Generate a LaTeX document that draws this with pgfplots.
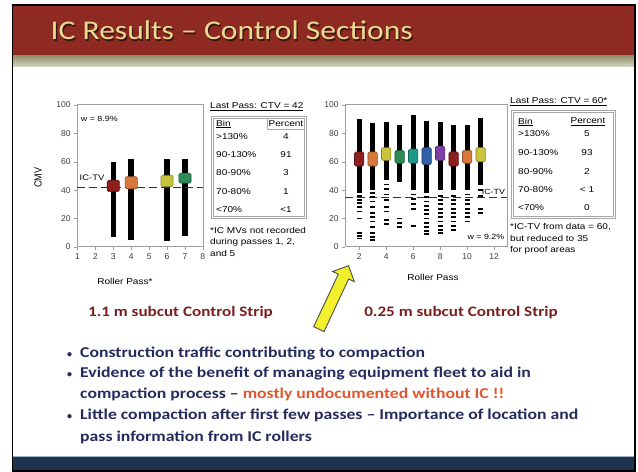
\documentclass[border=0pt]{standalone}
\usepackage{pgfplots}
\pgfplotsset{compat=1.18}
\usetikzlibrary{shapes.arrows}
\usepackage{graphicx}
\usepackage{fontspec}
\setmainfont{Liberation Sans}
\newfontfamily\calfont{Carlito}
\definecolor{slidered}{HTML}{8E2A22}
\definecolor{stripeA}{HTML}{959172}
\definecolor{stripeB}{HTML}{D8D6C4}
\definecolor{navy}{HTML}{1E3350}
\definecolor{navyline}{HTML}{9FB0C8}
\definecolor{titlegold}{HTML}{EADB92}
\definecolor{titleshadow}{HTML}{3A1410}
\definecolor{bultext}{HTML}{242C5E}
\definecolor{hotred}{HTML}{E0562E}
\definecolor{stripred}{HTML}{7A1F1F}
\definecolor{arrowyel}{HTML}{F2F02C}
\definecolor{cDR}{HTML}{8E1F1F}
\definecolor{cOR}{HTML}{D8783A}
\definecolor{cYE}{HTML}{C8C43C}
\definecolor{cGR}{HTML}{2E8B57}
\definecolor{cTE}{HTML}{1E9A8C}
\definecolor{cBL}{HTML}{3060A8}
\definecolor{cPU}{HTML}{7E3FA6}
\newcommand{\fs}[1]{\fontsize{#1bp}{#1bp}\selectfont}
\newcommand{\sx}[1]{\scalebox{1.18}[1]{#1}}
\pgfplotsset{
  slidax/.style={scale only axis, height=142bp, ymin=0, ymax=100,
    ytick={0,20,...,100}, axis line style={draw=gray!75, line width=1bp},
    tick style={gray!75}, xtick pos=bottom, ytick pos=left, tick align=outside,
    major tick length=3bp,
    ticklabel style={font=\fs{8.5}, text=black!75},
    /pgf/number format/assume math mode=true, clip=false},
  bx/.style={draw=#1!65!black, fill=#1, line width=0.6bp, rounded corners=1.5bp},
}
\begin{document}
\begin{tikzpicture}[x=1bp,y=1bp]
\fill[white] (0,0) rectangle (638,472);
\fill[slidered] (12.7,416) rectangle (635,467);
\shade[top color=stripeA, bottom color=stripeB] (12.7,405) rectangle (635,416);
\fill[navy] (12.7,1) rectangle (635,15);
\draw[navyline, line width=1bp] (12.7,15) -- (635,15);
\draw[black, line width=1.2bp] (12.7,1) rectangle (635,467);
\node[anchor=base west, text=titleshadow, inner sep=0] at (51.7,430.8) {\calfont\fs{27}\scalebox{1.17}[1]{IC Results – Control Sections}};
\node[anchor=base west, text=titlegold, inner sep=0] at (50.5,432) {\calfont\fs{27}\scalebox{1.17}[1]{IC Results – Control Sections}};

% ---------- left chart ----------
\begin{axis}[slidax, at={(77bp,225bp)}, anchor=south west, width=126bp,
  xmin=0.97, xmax=8.01, xtick={1,...,8}]
\addplot[black, line width=5.5bp, unbounded coords=jump] coordinates {
 (3,7) (3,60) (3,nan) (4,5) (4,62) (4,nan) (6,4) (6,62) (6,nan) (7,8) (7,62)};
\addplot[black!80, line width=1.2bp, dash pattern=on 8bp off 4bp] coordinates {(0.97,42) (8.01,42)};
\addplot[bx=cDR] coordinates {(2.66,39) (3.34,39) (3.34,47) (2.66,47)} -- cycle;
\addplot[bx=cOR] coordinates {(3.66,41) (4.34,41) (4.34,49.5) (3.66,49.5)} -- cycle;
\addplot[bx=cYE] coordinates {(5.66,42.5) (6.34,42.5) (6.34,50.5) (5.66,50.5)} -- cycle;
\addplot[bx=cGR] coordinates {(6.66,45) (7.34,45) (7.34,52) (6.66,52)} -- cycle;
\node[anchor=west, font=\fs{7.5}, inner sep=0] at (axis description cs:0.03,0.905) {\sx{w = 8.9\%}};
\node[anchor=west, font=\fs{8}, inner sep=0, fill=white, fill opacity=0.7, text opacity=1] at (axis description cs:0.02,0.485) {\sx{IC-TV}};
\node[rotate=90, font=\fs{9}] at (axis description cs:-0.31,0.486) {\scalebox{1}[1.15]{CMV}};
\node[font=\fs{8.5}] at (axis description cs:0.38,-0.246) {\sx{Roller Pass*}};
\end{axis}

% ---------- right chart ----------
\begin{axis}[slidax, at={(345bp,225bp)}, anchor=south west, width=162bp,
  xmin=0.95, xmax=12.95, xtick={2,4,...,12}]
\addplot[black, line width=5bp, unbounded coords=jump] coordinates {
 (2,38) (2,90) (2,nan) (3,40) (3,87) (3,nan) (4,47) (4,88) (4,nan)
 (5,46) (5,86) (5,nan) (6,40) (6,93) (6,nan) (7,38) (7,89) (7,nan)
 (8,40) (8,88) (8,nan) (9,40) (9,86) (9,nan) (10,40) (10,86) (10,nan) (11,44) (11,91)};
\addplot[only marks, mark=-, mark size=2.5bp, mark options={line width=1.8bp}, black] coordinates {
 (2,36) (2,33) (2,31) (2,28) (2,25) (2,20) (2,10) (2,8) (2,6)
 (3,38) (3,35) (3,32) (3,28) (3,24) (3,21) (3,18) (3,14) (3,10) (3,7) (3,5)
 (4,44) (4,41) (4,37) (4,33) (4,28) (4,25) (4,19) (4,16)
 (5,20) (5,17) (5,14)
 (6,37) (6,34) (6,30) (6,27) (6,15)
 (7,35) (7,32) (7,29) (7,26) (7,23) (7,20) (7,17) (7,14) (7,11) (7,9)
 (8,36) (8,33) (8,30) (8,27) (8,24) (8,21) (8,18) (8,15) (8,12) (8,10)
 (9,36) (9,33) (9,30) (9,27) (9,24) (9,21) (9,18) (9,15) (9,12)
 (10,37) (10,33) (10,30) (10,27) (10,24) (10,21) (10,18)
 (11,40) (11,36) (11,27) (11,24)};
\addplot[black!80, line width=1.2bp, dash pattern=on 8bp off 4bp] coordinates {(0.95,35) (12.95,35)};
\addplot[bx=cDR] coordinates {(1.65,57) (2.35,57) (2.35,67) (1.65,67)} -- cycle;
\addplot[bx=cOR] coordinates {(2.65,57) (3.35,57) (3.35,67) (2.65,67)} -- cycle;
\addplot[bx=cYE] coordinates {(3.65,61) (4.35,61) (4.35,70) (3.65,70)} -- cycle;
\addplot[bx=cGR] coordinates {(4.65,59) (5.35,59) (5.35,68) (4.65,68)} -- cycle;
\addplot[bx=cTE] coordinates {(5.65,59) (6.35,59) (6.35,69) (5.65,69)} -- cycle;
\addplot[bx=cBL] coordinates {(6.65,58) (7.35,58) (7.35,70) (6.65,70)} -- cycle;
\addplot[bx=cPU] coordinates {(7.65,61) (8.35,61) (8.35,71) (7.65,71)} -- cycle;
\addplot[bx=cDR] coordinates {(8.65,57) (9.35,57) (9.35,67) (8.65,67)} -- cycle;
\addplot[bx=cOR] coordinates {(9.65,59) (10.35,59) (10.35,68) (9.65,68)} -- cycle;
\addplot[bx=cYE] coordinates {(10.65,60) (11.35,60) (11.35,70) (10.65,70)} -- cycle;
\node[anchor=east, font=\fs{7.5}, inner sep=1bp, fill=white, fill opacity=0.8, text opacity=1] at (axis description cs:0.995,0.385) {\sx{IC-TV}};
\node[anchor=east, font=\fs{7.5}, inner sep=1bp, fill=white] at (axis description cs:0.99,0.07) {\sx{w = 9.2\%}};
\node[font=\fs{8.5}] at (axis description cs:0.543,-0.218) {\sx{Roller Pass}};
\end{axis}

% ---------- left table ----------
\begin{scope}[every node/.style={font=\fs{8.5}, inner sep=0}]
\node[anchor=west] at (210,365) {\sx{\underline{Last Pass: CTV = 42}}};
\draw[gray!70, line width=0.8bp] (211,254) rectangle (306,356);
\draw[gray!70, line width=0.6bp] (213,256) rectangle (304,354);
\node[anchor=west] at (216,348) {\sx{\underline{Bin}}};
\node at (286,348) {\sx{Percent}};
\draw[gray!70, line width=0.6bp] (267,342.5) rectangle (304,354);
\node[anchor=west] at (216,335) {\sx{>130\%}};   \node at (286,335) {\sx{4}};
\node[anchor=west] at (216,317) {\sx{90-130\%}}; \node at (286,317) {\sx{91}};
\node[anchor=west] at (216,299) {\sx{80-90\%}};  \node at (286,299) {\sx{3}};
\node[anchor=west] at (216,280) {\sx{70-80\%}};  \node at (286,280) {\sx{1}};
\node[anchor=west] at (216,262) {\sx{<70\%}};    \node at (286,262) {\sx{<1}};
\node[anchor=west] at (210,242) {\sx{*IC MVs not recorded}};
\node[anchor=west] at (210,230) {\sx{during passes 1, 2,}};
\node[anchor=west] at (210,219) {\sx{and 5}};
% ---------- right table ----------
\node[anchor=west] at (510,370) {\sx{\underline{Last Pass: CTV = 60*}}};
\draw[gray!70, line width=0.8bp] (511,254) rectangle (615,362);
\draw[gray!70, line width=0.6bp] (513,256) rectangle (613,360);
\node[anchor=west] at (518,350) {\sx{\underline{Bin}}};
\node at (588,350) {\sx{\underline{Percent}}};
\node[anchor=west] at (518,338) {\sx{>130\%}};   \node at (587,338) {\sx{5}};
\node[anchor=west] at (518,319) {\sx{90-130\%}}; \node at (587,319) {\sx{93}};
\node[anchor=west] at (518,300) {\sx{80-90\%}};  \node at (587,300) {\sx{2}};
\node[anchor=west] at (518,282) {\sx{70-80\%}};  \node at (587,282) {\sx{< 1}};
\node[anchor=west] at (518,264) {\sx{<70\%}};    \node at (587,264) {\sx{0}};
\node[anchor=west] at (510,245) {\sx{*IC-TV from data = 60,}};
\node[anchor=west] at (510,234) {\sx{but reduced to 35}};
\node[anchor=west] at (510,222) {\sx{for proof areas}};
\end{scope}

% ---------- arrow ----------
\node[single arrow, draw=black!70, fill=arrowyel, line width=0.9bp, minimum height=70bp,
  minimum width=24bp, single arrow head extend=6bp, inner xsep=2bp, inner ysep=5bp, rotate=64.9] at (332.5,172) {};

% ---------- captions ----------
\node[text=stripred, font=\calfont\bfseries\fs{14.5}] at (180.5,159) {\sx{1.1 m subcut Control Strip}};
\node[text=stripred, font=\calfont\bfseries\fs{14.5}] at (461,159) {\sx{0.25 m subcut Control Strip}};

% ---------- bullets ----------
\begin{scope}[every node/.style={anchor=base west, inner sep=0, text=bultext, font=\calfont\bfseries\fs{15}}]
\node at (67,114) {\fs{10}\textbullet};
\node at (80,114) {\sx{Construction traffic contributing to compaction}};
\node at (67,94) {\fs{10}\textbullet};
\node at (80,94) {\sx{Evidence of the benefit of managing equipment fleet to aid in}};
\node at (80,73) {\sx{compaction process – \textcolor{hotred}{mostly undocumented without IC !!}}};
\node at (67,52) {\fs{10}\textbullet};
\node at (80,52) {\sx{Little compaction after first few passes – Importance of location and}};
\node at (80,30) {\sx{pass information from IC rollers}};
\end{scope}
\end{tikzpicture}
\end{document}
